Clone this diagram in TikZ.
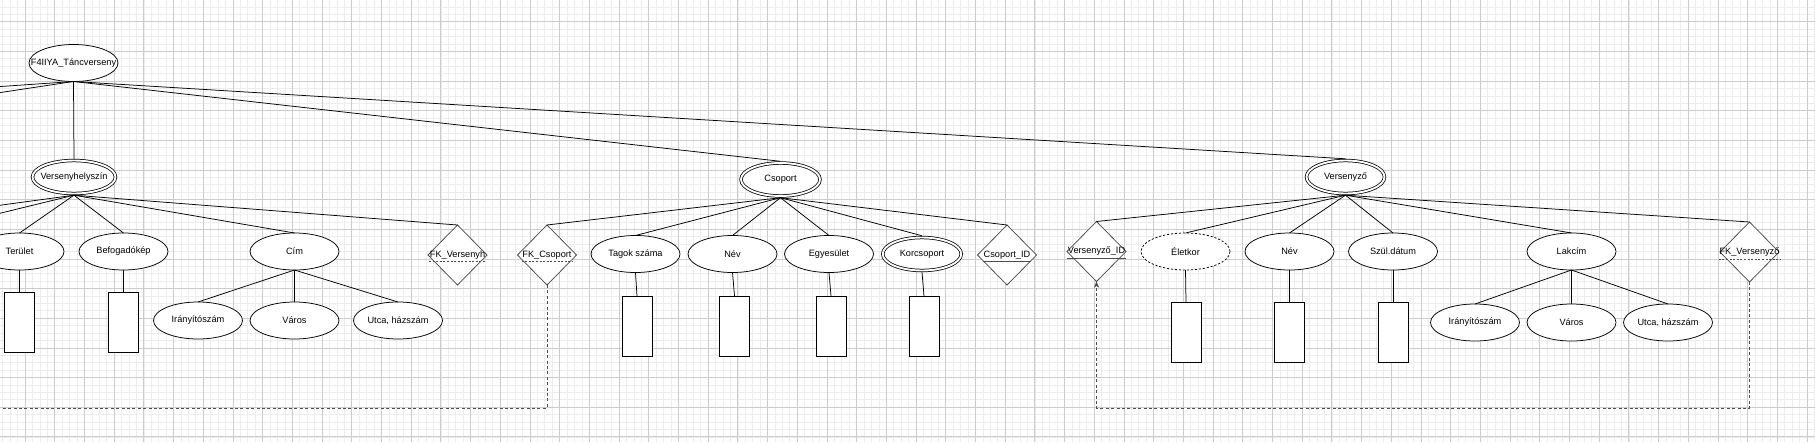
\documentclass[tikz,border=0pt]{standalone}
\usepackage{fontspec}
\setmainfont{Liberation Sans}
\usetikzlibrary{shapes.geometric}
\usetikzlibrary{arrows.meta}
\newcommand{\ctext}[1]{\makebox[0pt]{#1}}
\tikzstyle{attr}=[draw, fill=white, ellipse, inner sep=0, outer sep=0, minimum width=89pt, minimum height=37pt]
\tikzstyle{dattr}=[attr, dash pattern=on 2.2pt off 1.8pt]
\tikzstyle{entity}=[attr, double, double distance=1.9pt, outer sep=1.7pt, minimum height=33pt]
\tikzstyle{keyrel}=[draw=black!70, fill=white, diamond, inner sep=0, outer sep=0, minimum width=59pt, minimum height=60pt]
\tikzstyle{valbox}=[draw, fill=white, rectangle, inner sep=0, outer sep=0, minimum width=30pt, minimum height=60pt]
\tikzstyle{fkline}=[draw=black!70, dash pattern=on 3pt off 2.4pt]
\tikzstyle{fkunder}=[draw=black!70, dash pattern=on 2pt off 1.6pt]
\tikzstyle{idunder}=[draw=black!70]
\tikzstyle{gridminor}=[draw=black!7, line width=0.6pt]
\tikzstyle{gridmajor}=[draw=black!20, line width=0.7pt]
\tikzstyle{ermodel}=[x=1pt, y=-1pt, line width=0.75pt,
                     % draw.io sized text
                     font=\fontsize{9.2}{11}\selectfont,
                     every label/.style={inner xsep=0.5pt, inner ysep=2.2pt}]

\begin{document}
\begin{tikzpicture}[ermodel]
        \useasboundingbox (0,0) rectangle (1815,442);
        \clip (0,0) rectangle (1815,442);
        \fill[white] (0,0) rectangle (1815,442);
        \foreach \i in {-4,...,245} \draw[gridminor] ({25+7.425*\i},0) -- ++(0,442);
        \foreach \j in {-3,...,58} \draw[gridminor] (0,{21.7+7.4125*\j}) -- ++(1815,0);
        \foreach \i in {-1,...,61} \draw[gridmajor] ({25+29.7*\i},0) -- ++(0,442);
        \foreach \j in {-1,...,15} \draw[gridmajor] (0,{21.7+29.65*\j}) -- ++(1815,0);

        \node[attr] (verseny) at (73.5,63) {\ctext{F4IIYA\_Táncverseny}};
        \node[entity, minimum width=83pt] (helyszin) at (74,177) {\ctext{Versenyhelyszín}};
        \node[entity, minimum width=79pt] (csoport) at (780.5,179.5) {Csoport};
        \node[entity, minimum width=78pt] (versenyzo) at (1345.5,177) {Versenyző};

        % Versenyhelyszín
        \node[attr] (terulet) at (19.5,251.5) {Terület};
        \node[attr] (befog) at (123.5,251.5) {Befogadókép};
        \node[attr] (cim) at (294.5,251.5) {Cím};
        \node[keyrel, label={[name=lfkvh]center:FK\_Versenyh}] (fkvh) at (457.5,255) {};
        \node[attr] (irsz) at (198,320.5) {\ctext{Irányítószám}};
        \node[attr] (varos) at (294.5,320.5) {Város};
        \node[attr] (utca) at (398,320.5) {\ctext{Utca, házszám}};
        \node[valbox] (dterulet) at (19.5,322) {};
        \node[valbox] (dbefog) at (123.5,322) {};

        % Csoport
        \node[keyrel, label={[name=lfkcs]center:FK\_Csoport}] (fkcs) at (547,255) {};
        \node[attr] (tagok) at (635.5,254) {Tagok száma};
        \node[attr] (cnev) at (732.5,254) {Név};
        \node[attr] (egyes) at (829,254) {Egyesület};
        \node[entity, minimum width=78.5pt] (korcs) at (922,254) {Korcsoport};
        \node[keyrel, label={[name=lcsid]center:Csoport\_ID}] (csid) at (1007,255) {};
        \node[valbox] (dtagok) at (637,326) {};
        \node[valbox] (dcnev) at (734.5,326) {};
        \node[valbox] (degyes) at (831,326) {};
        \node[valbox] (dkorcs) at (924,326) {};

        % Versenyző
        \node[keyrel, label={[name=lvid]center:Versenyző\_ID}] (vid) at (1096.5,251.5) {};
        \node[dattr] (eletkor) at (1185.5,251.5) {Életkor};
        \node[attr] (vnev) at (1289.5,251.5) {Név};
        \node[attr] (szul) at (1393,251.5) {Szül.dátum};
        \node[attr] (lakcim) at (1571.5,251.5) {Lakcím};
        \node[keyrel, label={[name=lfkv]center:FK\_Versenyző}] (fkv) at (1749.5,252) {};
        \node[attr] (lirsz) at (1475,322.5) {\ctext{Irányítószám}};
        \node[attr] (lvaros) at (1571.5,322.5) {Város};
        \node[attr] (lutca) at (1668,322.5) {\ctext{Utca, házszám}};
        \node[valbox] (deletkor) at (1186,332) {};
        \node[valbox] (dvnev) at (1289.5,332) {};
        \node[valbox] (dszul) at (1393,332) {};

        % key underlines
        \draw[fkunder] (lfkvh.south west) -- (lfkvh.south east);
        \draw[fkunder] (lfkcs.south west) -- (lfkcs.south east);
        \draw[fkunder] (lfkv.south west) -- (lfkv.south east);
        \draw[idunder] (lcsid.south west) -- (lcsid.south east);
        \draw[idunder] (lvid.south west) -- (lvid.south east);

        % free ends left of the picture
        \coordinate (offa) at (-1058,159);
        \coordinate (offb) at (-440,159);
        \coordinate (offc) at (-204,233);
        \coordinate (offd) at (-81,233);
        \coordinate (offfk) at (-60,408);
        \coordinate (bendv) at (1096.5,408);

        \draw (verseny.south) -- (offa);
        \draw (verseny.south) -- (offb);
        \draw (verseny.south) -- (helyszin.north);
        \draw (verseny.south) -- (csoport.north);
        \draw (verseny.south) -- (versenyzo.north);

        \foreach \a in {offc, offd, terulet, befog, cim, fkvh}
            \draw (helyszin.south) -- (\a.north);
        \foreach \a in {irsz, varos, utca}
            \draw (cim.south) -- (\a.north);
        \draw (terulet.south) -- (dterulet.north);
        \draw (befog.south) -- (dbefog.north);

        \foreach \a in {fkcs, tagok, cnev, egyes, korcs, csid}
            \draw (csoport.south) -- (\a.north);
        \draw (tagok.south) -- (dtagok.north);
        \draw (cnev.south) -- (dcnev.north);
        \draw (egyes.south) -- (degyes.north);
        \draw (korcs.south) -- (dkorcs.north);

        \foreach \a in {vid, eletkor, vnev, szul, lakcim, fkv}
            \draw (versenyzo.south) -- (\a.north);
        \foreach \a in {lirsz, lvaros, lutca}
            \draw (lakcim.south) -- (\a.north);
        \draw (eletkor.south) -- (deletkor.north);
        \draw (vnev.south) -- (dvnev.north);
        \draw (szul.south) -- (dszul.north);

        \draw[fkline] (fkcs.south) |- (offfk);
        \draw[fkline, -{Stealth[length=6pt, width=5pt, inset=1.5pt]}] (fkv.south) |- (bendv) -- (vid.south);
    \end{tikzpicture}
\end{document}
